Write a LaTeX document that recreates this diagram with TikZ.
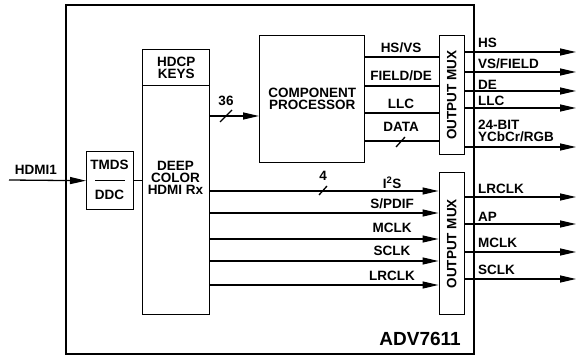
\documentclass[tikz,border=0pt]{standalone}
\usepackage{fontspec}
\setmainfont{Liberation Sans}
\usetikzlibrary{arrows.meta}
\begin{document}
\begin{tikzpicture}[x=1pt, y=-1pt, >={Triangle[length=16pt,width=7pt]},
    font=\fontsize{13.5}{15}\selectfont\bfseries,
    blk/.style={draw, line width=1.4pt, inner sep=0pt, align=center, anchor=north west},
    sig/.style={line width=1.3pt},
    lbl/.style={inner sep=0pt, align=left}]
    \useasboundingbox (0,0) rectangle (580,355);

    % blocks
    \node[blk, line width=2.2pt, minimum width=408, minimum height=349] (chip) at (65,4) {};
    \node[blk, minimum width=47, minimum height=58] (tmds) at (86,151) {};
    \node[blk, minimum width=67, minimum height=36] (keys) at (142,49) {HDCP\\[-3pt]KEYS};
    \node[blk, minimum width=67, minimum height=229] (rx) at (142,85) {};
    \node[blk, minimum width=105, minimum height=127] (proc) at (259,35) {COMPONENT\\[-3pt]PROCESSOR};
    \node[blk, minimum width=25, minimum height=119] (vmux) at (438.5,35) {};
    \node[blk, minimum width=25, minimum height=142] (amux) at (438.5,172) {};
    \node[lbl, rotate=90] (vmuxlbl) at (vmux.center) {OUTPUT MUX};
    \node[lbl, rotate=90] (amuxlbl) at (amux.center) {OUTPUT MUX};
    \node[lbl, align=center] (rxlbl) at (175.5,178) {DEEP\\[-3pt]COLOR\\[-3pt]HDMI Rx};
    \node[lbl] (tmdslbl) at (109.5,165) {TMDS};
    \node[lbl] (ddclbl) at (109.5,195) {DDC};
    \draw[sig] ([xshift=9pt]tmds.west) -- ([xshift=-9pt]tmds.east);
    \node[lbl, anchor=east, font=\fontsize{19}{21}\selectfont\bfseries] (part) at (461,339) {ADV7611};

    % input
    \coordinate (hdmi) at (9,180);
    \draw[sig,->] (hdmi) -- (tmds.west);
    \node[lbl] (hdmilbl) at (36,170) {HDMI1};
    \draw[sig] (tmds.east) -- (rx.west |- tmds.east);

    % video path
    \draw[sig,->] (rx.east |- 0,116) -- (proc.west |- 0,116);
    \draw[sig] (220,122) -- (232,110);
    \node[lbl] (wid36) at (226,101) {36};
    \foreach \y/\txt/\ty in {57/HS\slash VS/48, 86/FIELD\slash DE/76, 113/LLC/104, 141/DATA/127}
        {\draw[sig] (proc.east |- 0,\y) -- (vmux.west |- 0,\y);
         \node[lbl] at (401,\ty) {\txt};}
    \draw[sig] (396,147) -- (405,137);

    \coordinate (outR) at (576,0);
    \foreach \y in {52,72,91,108,147}
        \draw[sig,->] (vmux.east |- 0,\y) -- (outR |- 0,\y);
    \foreach \ty/\txt in {43/HS, 64/VS\slash FIELD, 85/DE, 101/LLC}
        \node[lbl, anchor=west] at (478,\ty) {\txt};
    \node[lbl, anchor=west] (rgb) at (478,131) {24-BIT\\[-3pt]YCbCr/RGB};

    % audio path
    \foreach \y/\txt/\ty in {191/I\textsuperscript{2}S/183, 213/S\slash PDIF/204, 239/MCLK/228, 261/SCLK/251, 285/LRCLK/276}
        {\draw[sig,->] (rx.east |- 0,\y) -- (amux.west |- 0,\y);
         \node[lbl] at (392,\ty) {\txt};}
    \draw[sig] (319,195) -- (327,186);
    \node[lbl] (wid4) at (323,176) {4};

    \foreach \y in {197,224,252,279}
        \draw[sig,->] (amux.east |- 0,\y) -- (outR |- 0,\y);
    \foreach \ty/\txt in {189/LRCLK, 217/AP, 243/MCLK, 270/SCLK}
        \node[lbl, anchor=west] at (478,\ty) {\txt};
\end{tikzpicture}
\end{document}
